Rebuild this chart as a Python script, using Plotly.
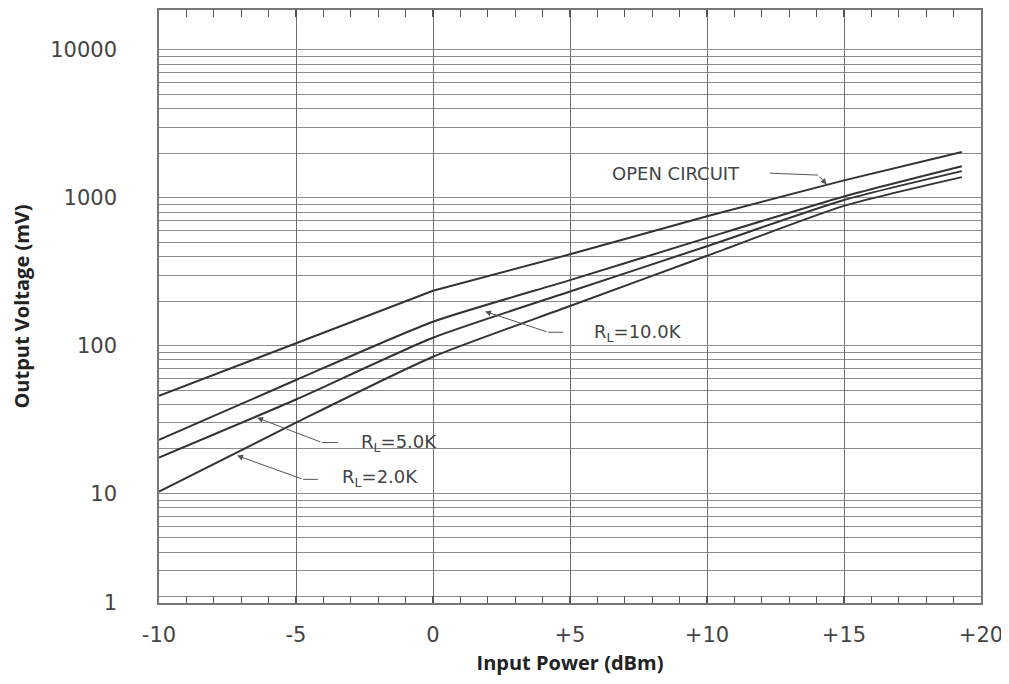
import math
import plotly.graph_objects as go

# ---- data ----
input_power = [-10, -5, 0, 5, 10, 15, 19.3]
v_open = [45.7, 103, 235, 414, 750, 1310, 2040]
v_10k = [23, 58.5, 145, 277, 535, 1020, 1634]
v_5k = [17.5, 43.2, 113, 232, 470, 965, 1513]
v_2k = [10.3, 30.1, 84, 185, 405, 880, 1378]

x_tickvals = [-10, -5, 0, 5, 10, 15, 20]
x_ticktext = ["-10", "-5", "0", "+5", "+10", "+15", "+20"]
y_bottom = 1.815
y_top = 18600
y_tickvals = [y_bottom, 10, 100, 1000, 10000]
y_ticktext = ["1", "10", "100", "1000", "10000"]

LINE = "#333333"
GRID = "#8c8c8c"
TXT = "#444444"

fig = go.Figure()
fig.add_trace(go.Scatter(x=input_power, y=v_open, mode="lines",
                         line=dict(color=LINE, width=2), hoverinfo="skip"))
for ys in (v_10k, v_5k, v_2k):
    fig.add_trace(go.Scatter(x=input_power, y=ys, mode="lines",
                             line=dict(color=LINE, width=2, shape="spline", smoothing=0.6),
                             hoverinfo="skip"))

minor_vals = [m * 10 ** d for d in range(0, 5) for m in range(2, 10) if y_bottom < m * 10 ** d < y_top]

fig.update_layout(
    width=1001, height=675,
    margin=dict(l=151, r=28, t=0, b=80),
    paper_bgcolor="white", plot_bgcolor="white",
    showlegend=False,
    xaxis=dict(
        range=[-10, 20], tickmode="array", tickvals=x_tickvals, ticktext=x_ticktext,
        showgrid=True, gridcolor="#6e6e6e", gridwidth=1,
        showline=True, linecolor="#777777", linewidth=1.5, mirror="allticks",
        ticks="inside", ticklen=7, tickcolor="#555555", tickwidth=1.5,
        minor=dict(dtick=1, ticks="inside", ticklen=7, tickcolor="#555555", tickwidth=1, showgrid=False),
        tickfont=dict(family="DejaVu Sans", size=21, color=TXT),
        ticklabelstandoff=12,
        zeroline=False,
        title=dict(text="<b>Input Power (dBm)</b>", font=dict(family="Open Sans", size=20, color="#222222"), standoff=10),
    ),
    yaxis=dict(
        type="log", range=[math.log10(y_bottom), math.log10(y_top)],
        tickmode="array", tickvals=y_tickvals, ticktext=y_ticktext,
        showgrid=True, gridcolor=GRID, gridwidth=1,
        minor=dict(tickmode="array", tickvals=minor_vals, showgrid=True, gridcolor=GRID, gridwidth=1, ticks=""),
        showline=True, linecolor="#777777", linewidth=1.5, mirror=True,
        ticks="", tickfont=dict(family="DejaVu Sans", size=21, color=TXT),
        ticklabelstandoff=36,
        zeroline=False,
        title=dict(text="<b>Output Voltage (mV)</b>", font=dict(family="Open Sans", size=20, color="#222222"), standoff=22),
    ),
)

# ---- labels with leader arrows ----
labels = [
    # text, text x, text log-y, tail x, tail y(data), corner x, corner y, head x, head y
    ("OPEN CIRCUIT", 8.87, 3.166, 12.30, 10 ** 3.166, 14.05, 10 ** 3.153, 14.37, 10 ** 3.090),
    ("R<sub>L</sub>=10.0K", 7.48, 2.083, 4.74, 10 ** 2.090, 4.20, 10 ** 2.090, 1.90, 10 ** 2.231),
    ("R<sub>L</sub>=5.0K", -1.24, 1.344, -3.47, 10 ** 1.344, -4.05, 10 ** 1.344, -6.42, 10 ** 1.512),
    ("R<sub>L</sub>=2.0K", -1.93, 1.101, -4.20, 10 ** 1.095, -4.74, 10 ** 1.095, -7.15, 10 ** 1.256),
]
for text, tx, ty, x0, y0, x1, y1, hx, hy in labels:
    fig.add_annotation(x=tx, y=ty, xref="x", yref="y", text=text, showarrow=False,
                       font=dict(family="DejaVu Sans", size=18, color=TXT))
    fig.add_shape(type="line", xref="x", yref="y", x0=x0, y0=y0, x1=x1, y1=y1,
                  line=dict(color="#555555", width=1))
    fig.add_annotation(x=hx, y=math.log10(hy), ax=x1, ay=math.log10(y1),
                       xref="x", yref="y", axref="x", ayref="y", text="",
                       showarrow=True, arrowhead=2, arrowsize=1.2, arrowwidth=1,
                       arrowcolor="#555555", standoff=0, startstandoff=0)

fig.write_html("out.html")
